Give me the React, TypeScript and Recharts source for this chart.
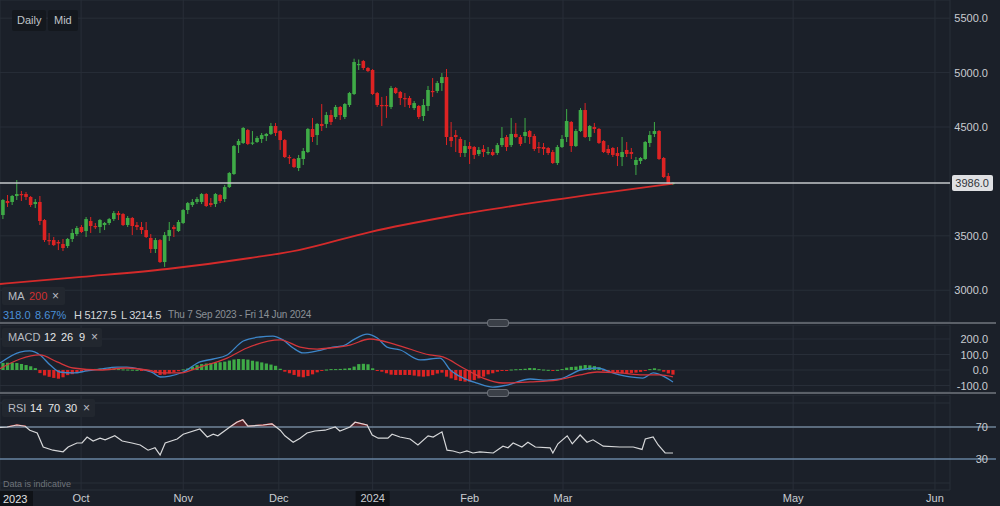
import React from "react";
import {
  ComposedChart,
  Bar,
  Line,
  Area,
  XAxis,
  YAxis,
  CartesianGrid,
  ReferenceLine,
} from "recharts";

const BG = "#1b2029";
const GRID = "#282e38";
const UP = "#3fab47";
const DOWN = "#dd2323";
const TXT = "#c9ccd1";
const FONT = "'Liberation Sans', Arial, sans-serif";
const CANDLE_W = 3.6;
const HIST_W = 3.2;

// x is the trading-day index, 0 = Thu 7 Sep 2023
const X_DOMAIN: [number, number] = [-0.65, 204.95];
const monthTicks = [16.9, 39, 59.7, 80, 101, 121.2, 171, 201.7];
const monthLabels = ["Oct", "Nov", "Dec", "2024", "Feb", "Mar", "May", "Jun"];

const priceTicks = [3000, 3500, 4500, 5000, 5500];
const macdTicks = [-100, 0, 100, 200];
const rsiTicks = [0, 30, 70, 100];

// daily candles: open, high, low, close
const ohlc: [number, number, number, number][] = [
  [3691, 3838, 3654, 3829], [3820, 3875, 3765, 3801], [3811, 3875, 3783, 3866], [3866, 4013, 3829, 3884],
  [3884, 3912, 3820, 3879], [3884, 3903, 3829, 3857], [3857, 3866, 3765, 3783], [3792, 3838, 3755, 3811],
  [3811, 3866, 3599, 3636], [3645, 3654, 3443, 3461], [3461, 3526, 3415, 3456], [3461, 3489, 3406, 3415],
  [3443, 3461, 3369, 3430], [3425, 3471, 3360, 3388], [3406, 3480, 3388, 3471], [3471, 3562, 3443, 3526],
  [3516, 3590, 3498, 3572], [3581, 3599, 3526, 3535], [3544, 3673, 3489, 3654], [3636, 3673, 3526, 3590],
  [3590, 3618, 3562, 3585], [3581, 3654, 3526, 3645], [3599, 3627, 3553, 3618], [3618, 3664, 3599, 3654],
  [3654, 3728, 3636, 3709], [3709, 3728, 3645, 3691], [3700, 3709, 3590, 3599], [3599, 3682, 3581, 3664],
  [3664, 3673, 3507, 3590], [3599, 3627, 3553, 3581], [3581, 3627, 3516, 3553], [3553, 3627, 3480, 3489],
  [3480, 3516, 3342, 3379], [3379, 3480, 3342, 3461], [3461, 3471, 3250, 3259], [3259, 3535, 3214.5, 3507],
  [3498, 3627, 3452, 3553], [3581, 3599, 3489, 3562], [3544, 3645, 3535, 3627], [3618, 3746, 3608, 3737],
  [3737, 3811, 3700, 3801], [3783, 3838, 3765, 3811], [3811, 3857, 3792, 3838], [3811, 3893, 3792, 3884],
  [3884, 3893, 3765, 3774], [3801, 3847, 3765, 3783], [3792, 3893, 3765, 3884], [3875, 3884, 3801, 3820],
  [3838, 3967, 3811, 3948], [3948, 4086, 3939, 4077], [4068, 4334, 4059, 4325], [4334, 4390, 4261, 4371],
  [4353, 4500, 4344, 4491], [4472, 4482, 4334, 4344], [4348, 4463, 4334, 4357], [4362, 4417, 4353, 4399],
  [4390, 4445, 4353, 4426], [4417, 4445, 4371, 4436], [4436, 4537, 4426, 4509], [4509, 4537, 4417, 4445],
  [4463, 4472, 4289, 4380], [4380, 4390, 4215, 4224], [4224, 4243, 4160, 4215], [4206, 4215, 4123, 4132],
  [4123, 4243, 4095, 4215], [4206, 4307, 4151, 4279], [4270, 4491, 4261, 4482], [4482, 4583, 4362, 4408],
  [4426, 4537, 4334, 4528], [4528, 4711, 4463, 4509], [4528, 4638, 4491, 4610], [4610, 4656, 4518, 4546],
  [4592, 4702, 4573, 4684], [4684, 4693, 4564, 4610], [4592, 4720, 4573, 4711], [4702, 4822, 4684, 4812],
  [4803, 5127.5, 4794, 5097], [5070, 5120, 5024, 5079], [5106, 5116, 5024, 5042], [5042, 5051, 5005, 5014],
  [5024, 5033, 4794, 4803], [4812, 4822, 4684, 4702], [4702, 4776, 4509, 4697], [4702, 4785, 4583, 4697],
  [4684, 4877, 4665, 4858], [4858, 4867, 4803, 4812], [4822, 4831, 4702, 4766], [4766, 4812, 4684, 4757],
  [4766, 4785, 4674, 4702], [4674, 4739, 4656, 4720], [4693, 4702, 4573, 4592], [4601, 4757, 4555, 4702],
  [4693, 4877, 4647, 4840], [4831, 4950, 4776, 4826], [4831, 4923, 4812, 4904], [4904, 4996, 4831, 4959],
  [4959, 5033, 4334, 4408], [4408, 4546, 4316, 4371], [4426, 4472, 4270, 4408], [4390, 4408, 4224, 4261],
  [4261, 4380, 4224, 4325], [4325, 4362, 4160, 4298], [4316, 4325, 4206, 4243], [4252, 4316, 4233, 4289],
  [4298, 4334, 4224, 4270], [4261, 4316, 4243, 4270], [4270, 4298, 4233, 4243], [4261, 4353, 4243, 4334],
  [4334, 4500, 4316, 4399], [4408, 4426, 4279, 4316], [4334, 4583, 4316, 4436], [4436, 4537, 4399, 4408],
  [4408, 4426, 4325, 4344], [4417, 4583, 4353, 4454], [4463, 4472, 4344, 4408], [4417, 4436, 4279, 4298],
  [4316, 4362, 4261, 4307], [4316, 4353, 4243, 4298], [4307, 4316, 4243, 4261], [4270, 4289, 4160, 4169],
  [4169, 4334, 4151, 4316], [4316, 4426, 4307, 4390], [4408, 4665, 4362, 4555], [4546, 4555, 4270, 4325],
  [4325, 4482, 4316, 4463], [4463, 4674, 4454, 4656], [4656, 4720, 4399, 4408], [4408, 4518, 4371, 4509],
  [4500, 4537, 4445, 4482], [4482, 4491, 4344, 4353], [4371, 4380, 4261, 4270], [4298, 4334, 4243, 4261],
  [4307, 4316, 4224, 4243], [4261, 4316, 4141, 4233], [4224, 4408, 4141, 4270], [4289, 4362, 4224, 4252],
  [4270, 4307, 4206, 4252], [4151, 4224, 4059, 4197], [4187, 4224, 4160, 4215], [4206, 4371, 4197, 4362],
  [4353, 4463, 4316, 4426], [4436, 4546, 4408, 4463], [4463, 4472, 4197, 4206], [4215, 4224, 4031, 4040],
  [4049, 4077, 3967, 3976], [3976, 3994, 3967, 3986],
];

// 200-day moving average, read at a few points
const ma200 = [
  { i: -0.65, v: 3057 }, { i: 17, v: 3122 }, { i: 35.5, v: 3195 }, { i: 53.5, v: 3296 },
  { i: 64, v: 3369 }, { i: 79.4, v: 3535 }, { i: 97, v: 3682 }, { i: 119, v: 3829 },
  { i: 145, v: 3980 },
];

// MACD histogram, one bar per candle
const macdHist = [
  46, 47, 47, 45, 39, 32, 24, 12, -20, -35, -44, -51, -56, -47, -33, -27, -19, -11, -4, 4,
  7, 9, 10, 11, 9, 6, 4, 3, 2, 1, -1, -4, -8, -21, -32, -30, -22, -15, -8, 4,
  10, 21, 31, 38, 42, 45, 47, 50, 54, 61, 68, 71, 70, 67, 60, 55, 49, 42, 35, 27,
  8, -11, -21, -32, -43, -47, -39, -28, -15, -4, 3, 6, 6, 7, 9, 12, 22, 38, 40, 37,
  11, -6, -11, -21, -30, -32, -32, -32, -32, -36, -41, -43, -40, -33, -23, -17, -43, -54, -65, -71,
  -75, -75, -65, -54, -43, -28, -21, -11, -6, -3, 3, 5, 6, 8, 13, 12, 6, 3, 1, -1,
  1, 6, 15, 20, 22, 28, 32, 30, 25, 18, -6, -11, -15, -20, -21, -21, -19, -17, -12, -5,
  6, 11, 4, -11, -22, -30,
];

const macdLine = [
  { i: -0.65, v: 45 }, { i: 3.7, v: 116 }, { i: 5.8, v: 123 }, { i: 8, v: 97 }, { i: 10.2, v: 32 },
  { i: 12.3, v: -13 }, { i: 15.2, v: -19 }, { i: 18.2, v: -6 }, { i: 21, v: 6 }, { i: 24.7, v: 19 },
  { i: 26.8, v: 19 }, { i: 29.7, v: 6 }, { i: 32.5, v: -19 }, { i: 34, v: -45 }, { i: 36.1, v: -39 },
  { i: 39, v: -13 }, { i: 42.6, v: 52 }, { i: 45.5, v: 71 }, { i: 48.5, v: 97 }, { i: 52, v: 187 },
  { i: 55.6, v: 213 }, { i: 58.4, v: 219 }, { i: 60.6, v: 194 }, { i: 62.8, v: 142 }, { i: 64.9, v: 110 },
  { i: 68, v: 123 }, { i: 71.4, v: 148 }, { i: 73.6, v: 155 }, { i: 75.8, v: 194 }, { i: 78.8, v: 232 },
  { i: 81, v: 206 }, { i: 83.1, v: 148 }, { i: 86, v: 129 }, { i: 90.3, v: 65 }, { i: 94.6, v: 77 },
  { i: 96.8, v: 0 }, { i: 99.6, v: -52 }, { i: 102.6, v: -84 }, { i: 106, v: -110 }, { i: 109.1, v: -97 },
  { i: 114.1, v: -58 }, { i: 117.7, v: -65 }, { i: 120.6, v: -58 }, { i: 122.7, v: -32 }, { i: 124.9, v: 0 },
  { i: 128.6, v: 13 }, { i: 132, v: -19 }, { i: 135.7, v: -45 }, { i: 138.5, v: -52 }, { i: 140.7, v: -19 },
  { i: 142.9, v: -39 }, { i: 145, v: -77 },
];

const signalLine = [
  { i: -0.65, v: 8 }, { i: 3.7, v: 71 }, { i: 8, v: 97 }, { i: 11.7, v: 52 }, { i: 15.2, v: 13 },
  { i: 21, v: 0 }, { i: 26.8, v: 13 }, { i: 31.2, v: 0 }, { i: 34.6, v: -19 }, { i: 38.3, v: -19 },
  { i: 42.6, v: 19 }, { i: 48.5, v: 77 }, { i: 52.8, v: 142 }, { i: 60, v: 194 }, { i: 64.3, v: 148 },
  { i: 68, v: 135 }, { i: 70.8, v: 142 }, { i: 75.1, v: 161 }, { i: 79.4, v: 200 }, { i: 85.3, v: 161 },
  { i: 92.4, v: 97 }, { i: 95.2, v: 84 }, { i: 99.6, v: 13 }, { i: 103.9, v: -52 }, { i: 108.2, v: -84 },
  { i: 114.1, v: -77 }, { i: 119.9, v: -65 }, { i: 124.9, v: -32 }, { i: 128.6, v: -13 }, { i: 133.5, v: -19 },
  { i: 138.5, v: -32 }, { i: 142.2, v: -32 }, { i: 145, v: -45 },
];

const rsiLine = [
  { i: -0.65, v: 69.6 }, { i: 0.9, v: 70 }, { i: 3, v: 72.5 }, { i: 4.8, v: 71 }, { i: 5.8, v: 66 },
  { i: 7.4, v: 62.5 }, { i: 8.7, v: 45 }, { i: 10.8, v: 41 }, { i: 13, v: 39 }, { i: 14.1, v: 45 },
  { i: 16, v: 50 }, { i: 17.1, v: 50 }, { i: 18.2, v: 57.5 }, { i: 19.5, v: 52.5 }, { i: 21, v: 56 },
  { i: 22.1, v: 54 }, { i: 24.2, v: 59 }, { i: 25.8, v: 52.5 }, { i: 27.9, v: 50 }, { i: 29.7, v: 47.5 },
  { i: 31.4, v: 41 }, { i: 32.9, v: 44 }, { i: 34, v: 35 }, { i: 35.1, v: 50 }, { i: 37.7, v: 55 },
  { i: 39, v: 61 }, { i: 42.6, v: 67.5 }, { i: 44.2, v: 57.5 }, { i: 45.5, v: 61 }, { i: 46.5, v: 59 },
  { i: 49.1, v: 70 }, { i: 50.6, v: 76 }, { i: 51.9, v: 79 }, { i: 53, v: 71 }, { i: 56.3, v: 72.5 },
  { i: 58.2, v: 74 }, { i: 60, v: 66 }, { i: 61, v: 59 }, { i: 62.8, v: 51 }, { i: 64.3, v: 56 },
  { i: 65.8, v: 62.5 }, { i: 67.5, v: 65 }, { i: 69.7, v: 66 }, { i: 71.9, v: 70 }, { i: 72.9, v: 65 },
  { i: 75.1, v: 70 }, { i: 76.2, v: 76 }, { i: 78.8, v: 72.5 }, { i: 79.9, v: 60 }, { i: 81.2, v: 56 },
  { i: 83.3, v: 56 }, { i: 84.2, v: 61 }, { i: 85.9, v: 57.5 }, { i: 88.1, v: 55 }, { i: 89.8, v: 47.5 },
  { i: 92, v: 59 }, { i: 93.1, v: 57.5 }, { i: 95, v: 64 }, { i: 96.1, v: 41 }, { i: 97.4, v: 40 },
  { i: 98.9, v: 37.5 }, { i: 100.4, v: 40 }, { i: 101.7, v: 37.5 }, { i: 103.2, v: 39 }, { i: 106.1, v: 37.5 },
  { i: 108.2, v: 46 }, { i: 109.3, v: 44 }, { i: 110.4, v: 50 }, { i: 112.3, v: 45 }, { i: 113.6, v: 51 },
  { i: 115.2, v: 45 }, { i: 118.4, v: 44 }, { i: 119, v: 37.5 }, { i: 120.1, v: 49 }, { i: 122.1, v: 59 },
  { i: 123.2, v: 49 }, { i: 124.9, v: 60 }, { i: 126.4, v: 51 }, { i: 127.7, v: 54 }, { i: 129.9, v: 46 },
  { i: 133.5, v: 45 }, { i: 136.4, v: 45 }, { i: 138.3, v: 42 }, { i: 139, v: 55 }, { i: 140.7, v: 57.5 },
  { i: 141.8, v: 47.5 }, { i: 143.3, v: 37.5 }, { i: 145, v: 37.5 },
];

// stretches of the RSI above 70 (drawn red)
const rsiHot = [
  { i: 0.9, v: 70 }, { i: 3, v: 72.5 }, { i: 4.8, v: 71 }, { i: 5.0, v: 70 }, { i: 5.1, v: null },
  { i: 49.1, v: 70 }, { i: 50.6, v: 76 }, { i: 51.9, v: 79 }, { i: 53, v: 71 }, { i: 56.3, v: 72.5 },
  { i: 58.2, v: 74 }, { i: 59.1, v: 70 }, { i: 59.2, v: null },
  { i: 75.1, v: 70 }, { i: 76.2, v: 76 }, { i: 78.8, v: 72.5 }, { i: 79.0, v: 70 },
];

const candles = ohlc.map(([o, h, l, c], i) => ({ i, o, h, l, c }));
const histData = macdHist.map((v, i) => ({ i, v }));
const lastClose = ohlc[ohlc.length - 1][3];

const Candle = (props: any) => {
  const { x, y, width, height, payload } = props;
  const { o, h, l, c } = payload;
  const k = h === l ? 0 : height / (h - l);
  const top = y + (h - Math.max(o, c)) * k;
  const bh = Math.max(1.2, Math.abs(o - c) * k);
  const color = c >= o ? UP : DOWN;
  const cx = x + width / 2;
  return (
    <g>
      <line x1={cx} x2={cx} y1={y} y2={y + height} stroke={color} strokeWidth={1} />
      <rect x={cx - CANDLE_W / 2} y={top} width={CANDLE_W} height={bh} fill={color} />
    </g>
  );
};

const HistBar = (props: any) => {
  const { x, y, width, height, payload } = props;
  const cx = x + width / 2;
  const top = height < 0 ? y + height : y;
  return (
    <rect
      x={cx - HIST_W / 2} y={top} width={HIST_W} height={Math.max(1, Math.abs(height))}
      fill={payload.v >= 0 ? UP : DOWN}
    />
  );
};

const RightTick = (props: any) => {
  const { x, y, payload, fmt } = props;
  const label = fmt(payload.value);
  if (!label) return null;
  return (
    <text x={x + 38} y={y} dy={4} textAnchor="end" fontSize={11} fill={TXT} fontFamily={FONT}>
      {label}
    </text>
  );
};

const MonthTick = (props: any) => {
  const { x, y, payload } = props;
  const label = monthLabels[monthTicks.indexOf(payload.value)];
  const isYear = /^\d{4}$/.test(label || "");
  return (
    <g>
      {isYear && <rect x={x - 17} y={y + 1} width={34} height={16} fill="#0f1217" />}
      <text x={x} y={y + 12} textAnchor="middle" fontSize={11} fill={TXT} fontFamily={FONT}>
        {label}
      </text>
    </g>
  );
};

const PriceTag = (props: any) => {
  const { viewBox, value } = props;
  const { x, y, width } = viewBox;
  return (
    <g>
      <rect x={x + width + 2} y={y - 8} width={41} height={16} rx={2} fill="#dfe0e3" />
      <text x={x + width + 39} y={y + 4} textAnchor="end" fontSize={11} fill="#30343a" fontFamily={FONT}>
        {value.toFixed(1)}
      </text>
    </g>
  );
};

const noMargin = { top: 0, right: 0, bottom: 0, left: 0 };

function Box({ left, top, width, height, children, bg = "#22272f" }: any) {
  return (
    <div style={{ position: "absolute", left, top, width, height, background: bg, borderRadius: 2 }}>
      {children}
    </div>
  );
}

function T({ left, top, color = TXT, size = 11, spacing = 0, children }: any) {
  return (
    <span
      style={{
        position: "absolute", left, top, color, fontSize: size, whiteSpace: "nowrap",
        lineHeight: 1, letterSpacing: spacing,
      }}
    >
      {children}
    </span>
  );
}

function Separator({ top }: { top: number }) {
  return (
    <>
      <div style={{ position: "absolute", left: 0, top, width: 996, height: 2, background: "#5b6068" }} />
      <div
        style={{
          position: "absolute", left: 487, top: top - 3, width: 20, height: 6,
          background: "#3b4048", border: "1px solid #6b7078", borderRadius: 3,
        }}
      />
    </>
  );
}

export default function App() {
  return (
    <div
      style={{
        position: "absolute", left: 0, top: 0, width: 1000, height: 506,
        background: BG, overflow: "hidden", fontFamily: FONT,
      }}
    >
      {/* price panel */}
      <div style={{ position: "absolute", left: 0, top: 0 }}>
        <ComposedChart width={1000} height={322} data={candles} margin={noMargin}>
          <CartesianGrid stroke={GRID} />
          <XAxis type="number" dataKey="i" domain={X_DOMAIN} ticks={monthTicks} interval={0} hide allowDataOverflow />
          <YAxis
            orientation="right" width={50} domain={[2708, 5667]} ticks={priceTicks} interval={0} allowDataOverflow
            tickLine={false} axisLine={false} tickSize={0} tickMargin={0}
            tick={<RightTick fmt={(v: number) => v.toFixed(1)} />}
          />
          <Line
            data={ma200} dataKey="v" type="monotone" stroke="#d42a2a" strokeWidth={1.8}
            dot={false} activeDot={false} isAnimationActive={false}
          />
          <Bar dataKey={(d: any) => [d.l, d.h]} barSize={4} shape={<Candle />} isAnimationActive={false} />
          <ReferenceLine y={lastClose} stroke="#c5c7ca" strokeWidth={1.6} label={<PriceTag value={lastClose} />} />
        </ComposedChart>
      </div>

      {/* MACD panel */}
      <div style={{ position: "absolute", left: 0, top: 325 }}>
        <ComposedChart width={1000} height={67} data={histData} margin={noMargin}>
          <CartesianGrid stroke={GRID} />
          <XAxis type="number" dataKey="i" domain={X_DOMAIN} ticks={monthTicks} interval={0} hide allowDataOverflow />
          <YAxis
            orientation="right" width={50} domain={[-141.9, 290.3]} ticks={macdTicks} interval={0} allowDataOverflow
            tickLine={false} axisLine={false} tickSize={0} tickMargin={0}
            tick={<RightTick fmt={(v: number) => v.toFixed(1)} />}
          />
          <Bar dataKey="v" barSize={3} shape={<HistBar />} isAnimationActive={false} />
          <Line
            data={macdLine} dataKey="v" type="monotone" stroke="#3d86c9" strokeWidth={1.3}
            dot={false} activeDot={false} isAnimationActive={false}
          />
          <Line
            data={signalLine} dataKey="v" type="monotone" stroke="#d3353a" strokeWidth={1.3}
            dot={false} activeDot={false} isAnimationActive={false}
          />
        </ComposedChart>
      </div>

      {/* RSI panel */}
      <div style={{ position: "absolute", left: 0, top: 395 }}>
        <ComposedChart width={1000} height={111} data={rsiLine} margin={noMargin}>
          <CartesianGrid stroke={GRID} />
          <XAxis
            type="number" dataKey="i" domain={X_DOMAIN} ticks={monthTicks} interval={0} height={16} allowDataOverflow
            tickLine={false} axisLine={false} tickSize={0} tickMargin={0} tick={<MonthTick />}
          />
          <YAxis
            orientation="right" width={50} domain={[-8.75, 110]} ticks={rsiTicks} interval={0} allowDataOverflow
            tickLine={false} axisLine={false} tickSize={0} tickMargin={0}
            tick={<RightTick fmt={(v: number) => (v === 30 || v === 70 ? String(v) : "")} />}
          />
          <ReferenceLine
            segment={[{ x: X_DOMAIN[0], y: 70 }, { x: 214.9, y: 70 }]}
            stroke="#6f8397" strokeWidth={1.5} ifOverflow="visible"
          />
          <ReferenceLine
            segment={[{ x: X_DOMAIN[0], y: 30 }, { x: 214.9, y: 30 }]}
            stroke="#88b0d8" strokeWidth={1.2} ifOverflow="visible"
          />
          <Line
            dataKey="v" type="linear" stroke="#d6d7d9" strokeWidth={1.2}
            dot={false} activeDot={false} isAnimationActive={false}
          />
          <Area
            data={rsiHot} dataKey="v" type="linear" baseValue={70} connectNulls={false}
            stroke="#c9302c" strokeWidth={1.3} fill="#a3252a" fillOpacity={0.4}
            dot={false} activeDot={false} isAnimationActive={false}
          />
        </ComposedChart>
      </div>

      <Separator top={322} />
      <Separator top={392} />

      {/* overlays */}
      <Box left={12} top={10} width={34} height={21} bg="#14181e">
        <T left={5} top={5} color="#c0c4c9">Daily</T>
      </Box>
      <Box left={48} top={10} width={30} height={21} bg="#14181e">
        <T left={6} top={5} color="#c0c4c9">Mid</T>
      </Box>

      <Box left={2} top={287} width={63} height={18}>
        <T left={6} top={4} color="#b9bdc3">MA</T>
        <T left={27} top={4} color="#cf3030">200</T>
        <T left={50} top={3} color="#b9bdc3" size={12}>×</T>
      </Box>
      <T left={3} top={310} color="#4a90d9">318.0</T>
      <T left={35} top={310} color="#4a90d9">8.67%</T>
      <T left={74} top={310} color="#d4d6d9" spacing={-0.3}>H 5127.5</T>
      <T left={121} top={310} color="#d4d6d9" spacing={-0.3}>L 3214.5</T>
      <T left={168} top={310} color="#8b9097" size={10} spacing={-0.2}>Thu 7 Sep 2023 - Fri 14 Jun 2024</T>

      <Box left={2} top={328} width={100} height={19}>
        <T left={6} top={4} color="#b9bdc3">MACD</T>
        <T left={42} top={4} color="#e6e7e9">12</T>
        <T left={59} top={4} color="#e6e7e9">26</T>
        <T left={77} top={4} color="#e6e7e9">9</T>
        <T left={89} top={3} color="#b9bdc3" size={12}>×</T>
      </Box>

      <Box left={2} top={399} width={93} height={18}>
        <T left={6} top={4} color="#b9bdc3">RSI</T>
        <T left={28} top={4} color="#e6e7e9">14</T>
        <T left={46} top={4} color="#e6e7e9">70</T>
        <T left={63} top={4} color="#e6e7e9">30</T>
        <T left={81} top={3} color="#b9bdc3" size={12}>×</T>
      </Box>

      <T left={3} top={480} color="#6f747b" size={9}>Data is indicative</T>
      <div style={{ position: "absolute", left: 0, top: 491, width: 33, height: 15, background: "#0f1217" }}>
        <T left={3} top={3} color="#e2e3e5">2023</T>
      </div>
    </div>
  );
}
